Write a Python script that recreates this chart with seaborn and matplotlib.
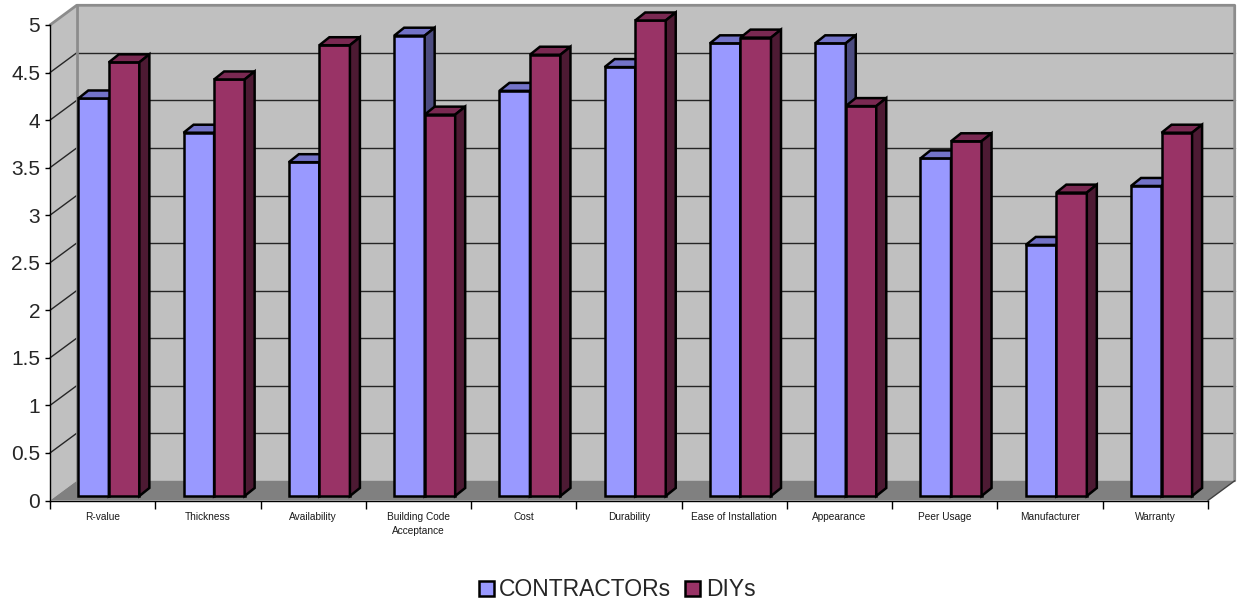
import numpy as np
import pandas as pd
import matplotlib
matplotlib.use("Agg")
import matplotlib.pyplot as plt
from matplotlib.patches import Polygon, Patch
from matplotlib.lines import Line2D
from matplotlib.transforms import ScaledTranslation
from matplotlib.ticker import FixedLocator
import seaborn as sns

# ---- data -------------------------------------------------------------
categories = ["R-value", "Thickness", "Availability", "Building Code\nAcceptance",
              "Cost", "Durability", "Ease of Installation", "Appearance",
              "Peer Usage", "Manufacturer", "Warranty"]
contractors = [4.18, 3.82, 3.51, 4.84, 4.26, 4.51, 4.76, 4.76, 3.55, 2.64, 3.26]
diys = [4.56, 4.38, 4.74, 4.01, 4.64, 5.00, 4.82, 4.10, 3.73, 3.19, 3.82]
series_names = ["CONTRACTORs", "DIYs"]
y_ticks = [0, 0.5, 1, 1.5, 2, 2.5, 3, 3.5, 4, 4.5, 5]

# ---- styling ----------------------------------------------------------
front_colors = ["#9999FF", "#993366"]
top_colors = ["#7373C8", "#7A2952"]
side_colors = ["#4C4C80", "#4D1A33"]
WALL_COLOR = "#C0C0C0"
FLOOR_COLOR = "#808080"
EDGE_LW = 1.8

sns.set_style("white")
plt.rcParams["font.family"] = ["Liberation Sans", "DejaVu Sans"]

W, H, DPI = 1239, 607, 100
fig = plt.figure(figsize=(W / DPI, H / DPI), dpi=DPI)
ax = fig.add_axes([50 / W, (H - 500.5) / H, 1158 / W, 475.5 / H])
ax.set_facecolor("none")

# pixel offsets used for the pseudo-3D look (display coords, y up)
WALL = np.array([26.7, 19.7])   # depth of the back wall
BAR = np.array([6.2, 4.5])      # bars sit a little behind the front edge
DEPTH = np.array([10.0, 8.0])   # thickness of each column

df = pd.DataFrame({
    "category": categories * 2,
    "score": contractors + diys,
    "group": [series_names[0]] * len(categories) + [series_names[1]] * len(categories),
})

sns.barplot(data=df, x="category", y="score", hue="group", order=categories,
            hue_order=series_names, palette=front_colors, saturation=1,
            width=0.58, edgecolor="black", linewidth=EDGE_LW, ax=ax, legend=False)

ax.set_xlim(-0.5, len(categories) - 0.5)
ax.set_ylim(0, 5)
ax.set_xlabel("")
ax.set_ylabel("")

to_fig = fig.transFigure.inverted()


def pts(coords):
    """data points with pixel offsets -> figure fraction"""
    out = []
    for (x, y), off in coords:
        d = ax.transData.transform((x, y)) + off
        out.append(to_fig.transform(d))
    return np.array(out)


def add_poly(coords, fc, z, ec="none", lw=0.0):
    p = Polygon(pts(coords), closed=True, facecolor=fc, edgecolor=ec,
                linewidth=lw, transform=fig.transFigure, zorder=z,
                clip_on=False, joinstyle="miter")
    ax.add_artist(p)


def add_line(coords, color, lw, z):
    xy = pts(coords)
    ax.add_artist(Line2D(xy[:, 0], xy[:, 1], color=color, lw=lw,
                         transform=fig.transFigure, zorder=z, clip_on=False))


x0, x1 = -0.5, len(categories) - 0.5
zero = np.zeros(2)

# walls and floor
add_poly([((x0, 0), WALL), ((x1, 0), WALL), ((x1, 5), WALL), ((x0, 5), WALL)], WALL_COLOR, 0.2)
add_poly([((x0, 0), zero), ((x0, 5), zero), ((x0, 5), WALL), ((x0, 0), WALL)], WALL_COLOR, 0.2)
add_poly([((x0, 0), zero), ((x1, 0), zero), ((x1, 0), WALL), ((x0, 0), WALL)], FLOOR_COLOR, 0.3)

# gridlines on back and side walls
for v in y_ticks[1:-1]:
    add_line([((x0, v), WALL), ((x1, v), WALL)], "#262626", 1.0, 0.4)
    add_line([((x0, v), zero), ((x0, v), WALL)], "#262626", 1.0, 0.4)

# wall borders
add_line([((x0, 5), zero), ((x0, 5), WALL), ((x1, 5), WALL), ((x1, 0), WALL)], "#8C8C8C", 2.0, 0.45)
add_line([((x0, 0), WALL), ((x0, 5), WALL)], "#8C8C8C", 2.0, 0.45)
add_line([((x1, 0), zero), ((x1, 0), WALL)], "#404040", 1.0, 0.45)

# columns: shift front faces back a bit and add top / side faces
bar_shift = ax.transData + ScaledTranslation(BAR[0] / DPI, BAR[1] / DPI, fig.dpi_scale_trans)
for s, cont in enumerate(ax.containers):
    zf = 2.0 + s
    for rect in cont:
        rect.set_transform(bar_shift)
        rect.set_zorder(zf)
        rect.set_clip_on(False)
        rect.set_joinstyle("miter")
        bx0 = rect.get_x()
        bx1 = bx0 + rect.get_width()
        h = rect.get_height()
        add_poly([((bx0, h), BAR), ((bx1, h), BAR), ((bx1, h), BAR + DEPTH), ((bx0, h), BAR + DEPTH)],
                 top_colors[s], zf + 0.1, ec="black", lw=EDGE_LW)
        add_poly([((bx1, 0), BAR), ((bx1, 0), BAR + DEPTH), ((bx1, h), BAR + DEPTH), ((bx1, h), BAR)],
                 side_colors[s], zf + 0.1, ec="black", lw=EDGE_LW)

# axes lines and ticks
for side in ("top", "right"):
    ax.spines[side].set_visible(False)
for side in ("left", "bottom"):
    ax.spines[side].set_color("black")
    ax.spines[side].set_linewidth(1.0)
    ax.spines[side].set_zorder(5)

ax.set_yticks(y_ticks)
ax.set_yticklabels([f"{v:g}" for v in y_ticks])
ax.tick_params(axis="y", which="major", direction="out", length=3.6, width=1,
               color="black", pad=3.6, labelsize=15, left=True)
ax.set_xticks(range(len(categories)))
ax.set_xticklabels(categories, linespacing=1.6)
ax.xaxis.set_minor_locator(FixedLocator(np.arange(-0.5, len(categories), 1.0)))
ax.tick_params(axis="x", which="major", length=0, pad=8, labelsize=7.3, labelcolor="#1a1a1a")
ax.tick_params(axis="x", which="minor", direction="out", length=5.8, width=1,
               color="black", bottom=True)
ax.grid(False)

# legend
handles = [Patch(facecolor=c, edgecolor="black", linewidth=EDGE_LW) for c in front_colors]
fig.legend(handles, series_names, loc="center", bbox_to_anchor=(0.498, 1 - 590 / H),
           ncol=2, frameon=False, fontsize=16.5, handlelength=0.65, handleheight=0.65,
           handletextpad=0.25, columnspacing=0.6)

fig.savefig("out.png", dpi=DPI)
